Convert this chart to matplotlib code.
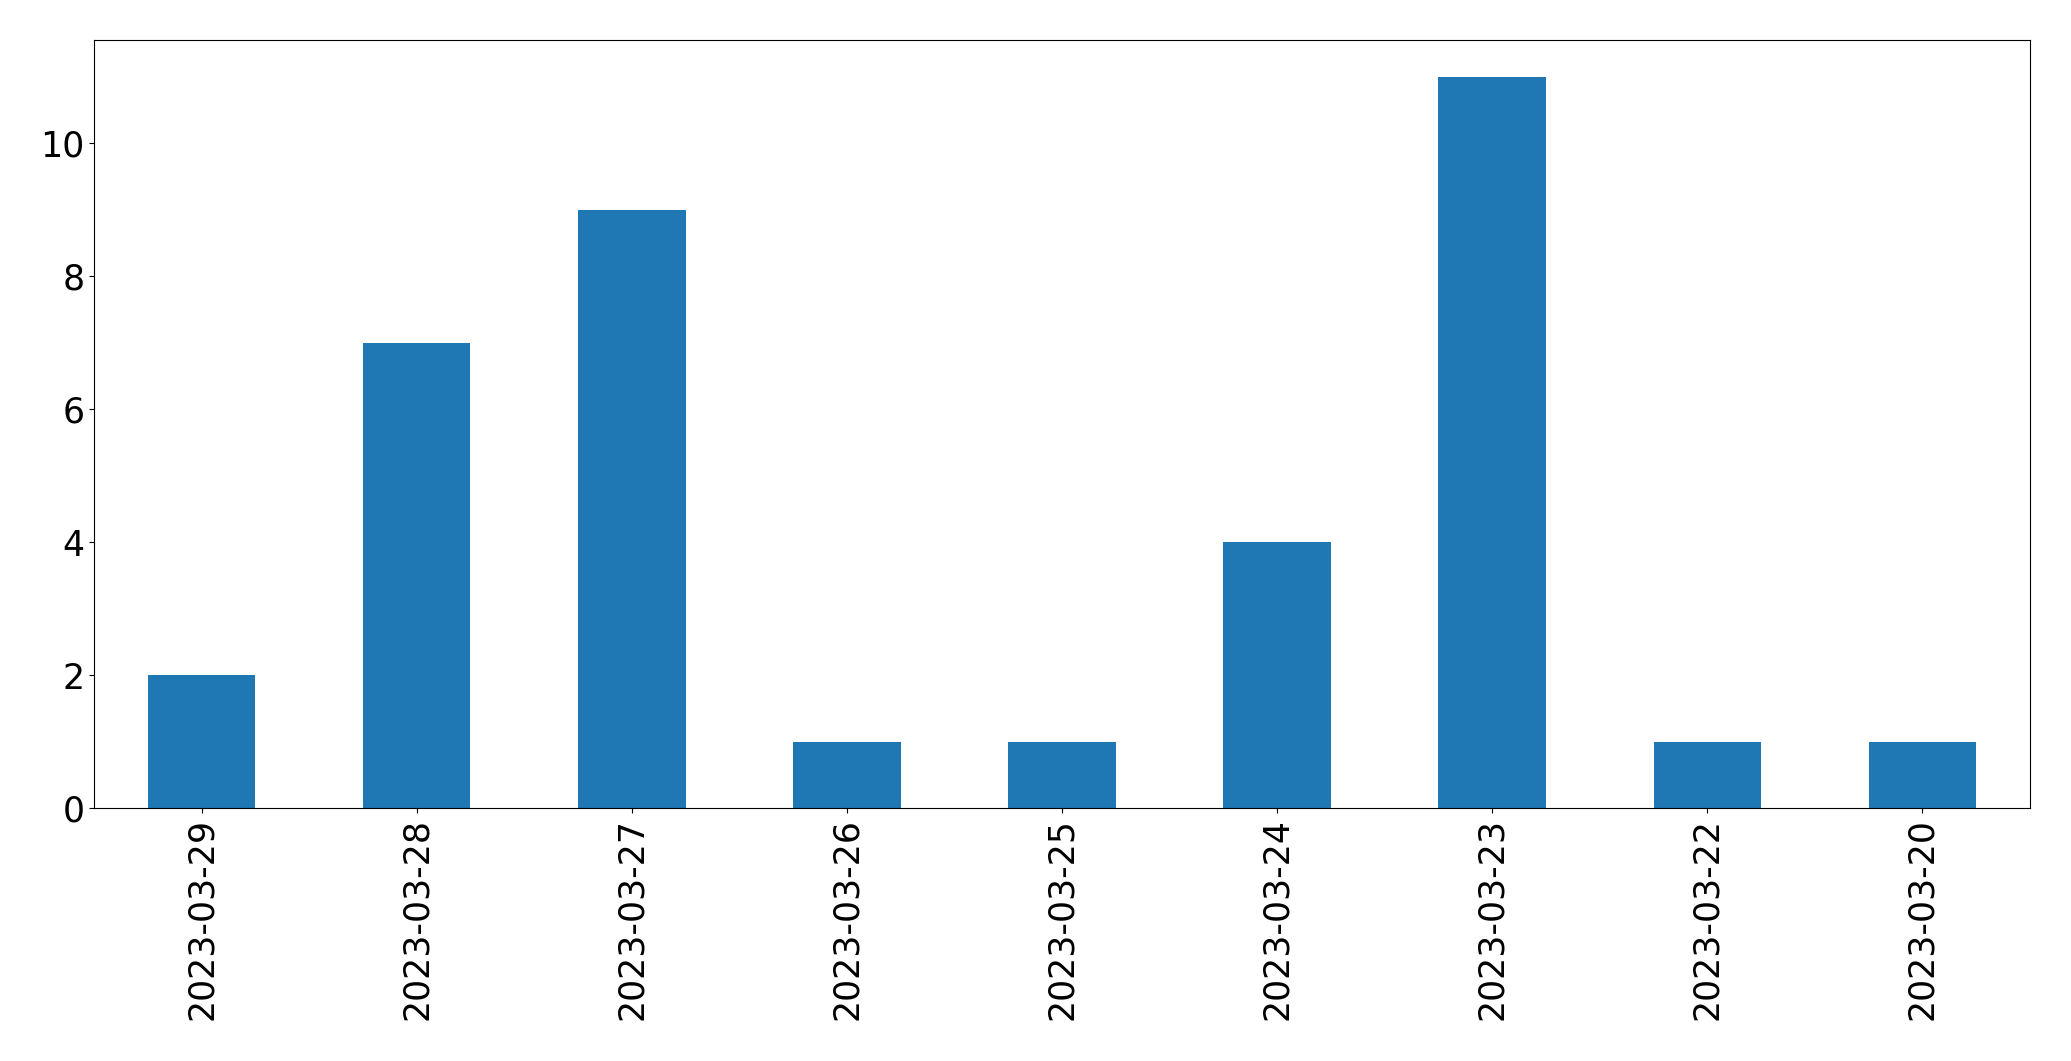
import pandas as pd
import matplotlib
matplotlib.use("Agg")
import matplotlib.pyplot as plt

# counts per day, in the order they appear on the chart
dates = ["2023-03-29", "2023-03-28", "2023-03-27", "2023-03-26", "2023-03-25",
         "2023-03-24", "2023-03-23", "2023-03-22", "2023-03-20"]
counts = [2, 7, 9, 1, 1, 4, 11, 1, 1]

plt.rcParams['font.size'] = 25

s = pd.Series(counts, index=dates)

fig = plt.figure(figsize=(20.71, 10.61), dpi=100)
ax = fig.add_subplot(111)
s.plot(kind="bar", ax=ax, color="#1f77b4")
fig.subplots_adjust(left=94/2071, right=2030/2071, top=1-40/1061, bottom=1-808/1061)

fig.savefig("out.png", dpi=100)
